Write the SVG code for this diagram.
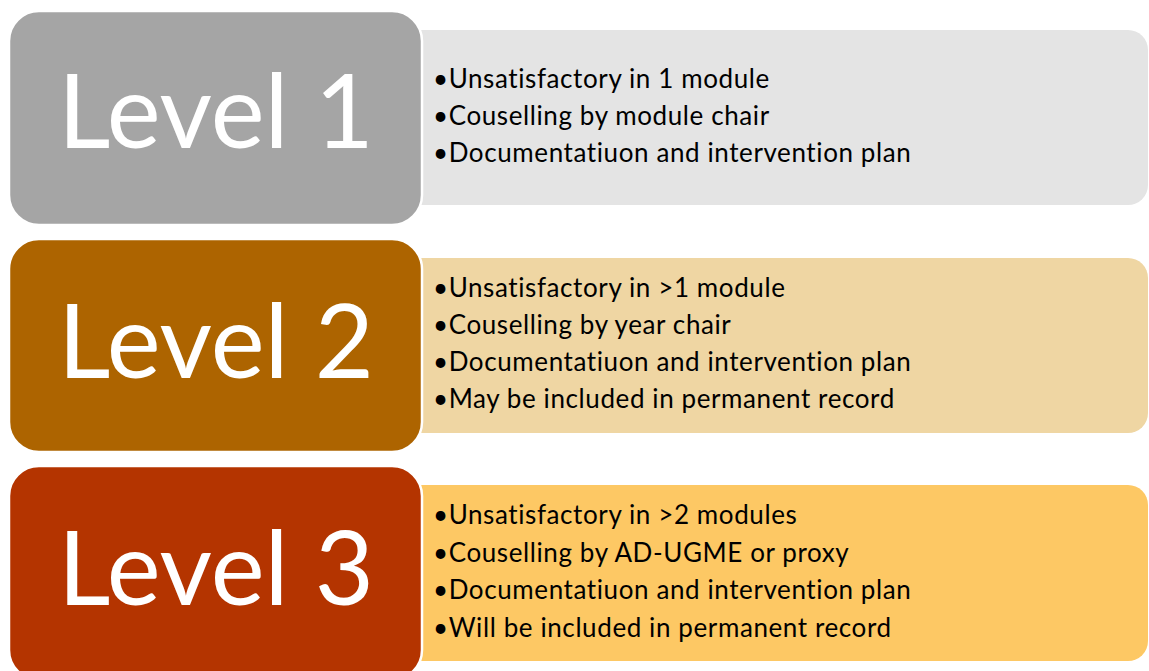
<svg xmlns="http://www.w3.org/2000/svg" width="1149" height="671" viewBox="0 0 1149 671">
<style>
.lvl{font-family:Lato,"Open Sans","Liberation Sans",sans-serif;font-size:102px;fill:#ffffff;text-anchor:middle}
.item{font-family:Lato,"Open Sans","Liberation Sans",sans-serif;font-size:26px;letter-spacing:0.6px;fill:#000000}
.head{stroke:#ffffff;stroke-width:2.5}
</style>
<rect width="1149" height="671" fill="#ffffff"/>
<g id="level1">
<rect x="400" y="30" width="748" height="175" rx="20" fill="#E4E4E4"/>
<rect class="head" x="9" y="11" width="413" height="214" rx="30" fill="#A5A5A5"/>
<text class="lvl" x="216" y="148">Level 1</text>
<text class="item" x="433" y="88">•Unsatisfactory in 1 module</text>
<text class="item" x="433" y="125">•Couselling by module chair</text>
<text class="item" x="433" y="162">•Documentatiuon and intervention plan</text>
</g>
<g id="level2">
<rect x="400" y="258" width="748" height="175" rx="20" fill="#EFD6A3"/>
<rect class="head" x="9" y="239" width="413" height="213" rx="30" fill="#AD6400"/>
<text class="lvl" x="216" y="378">Level 2</text>
<text class="item" x="433" y="297">•Unsatisfactory in &gt;1 module</text>
<text class="item" x="433" y="334">•Couselling by year chair</text>
<text class="item" x="433" y="371">•Documentatiuon and intervention plan</text>
<text class="item" x="433" y="408">•May be included in permanent record</text>
</g>
<g id="level3">
<rect x="400" y="485" width="748" height="176" rx="20" fill="#FDC864"/>
<rect class="head" x="9" y="466" width="413" height="214" rx="30" fill="#B43400"/>
<text class="lvl" x="216" y="605">Level 3</text>
<text class="item" x="433" y="524">•Unsatisfactory in &gt;2 modules</text>
<text class="item" x="433" y="562">•Couselling by AD-UGME or proxy</text>
<text class="item" x="433" y="599">•Documentatiuon and intervention plan</text>
<text class="item" x="433" y="637">•Will be included in permanent record</text>
</g>
<g id="connectors"/>
</svg>
